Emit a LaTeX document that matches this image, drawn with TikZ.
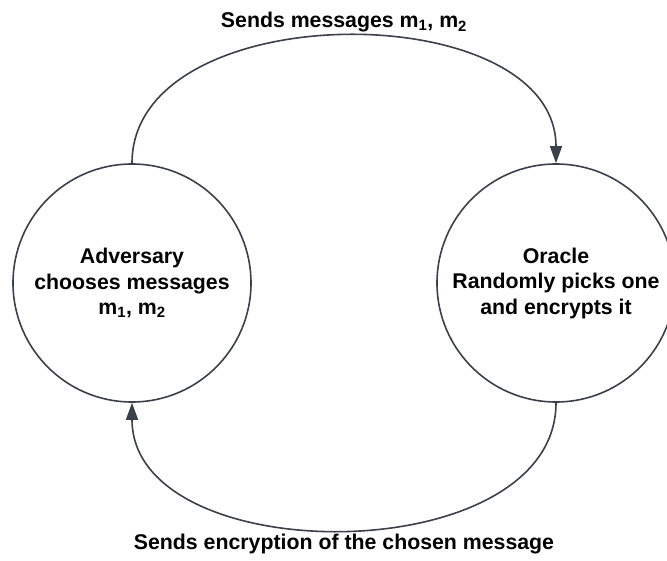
\documentclass[tikz,border=0pt]{standalone}
\usepackage{fontspec}
\setmainfont{Liberation Sans}
\usetikzlibrary{arrows.meta, positioning}
\definecolor{edgegray}{HTML}{3A414A}

\begin{document}
\begin{tikzpicture}[->, x=1pt, y=1pt, line width=1.6pt, node distance=424pt,
    >={Triangle[length=17pt, width=12pt]},
    bigfont/.style={font=\bfseries\fontsize{21.3}{25.5}\selectfont},
    party/.style={circle, draw=edgegray, minimum size=238pt, inner sep=0pt, align=center, bigfont},
    msglabel/.style={bigfont}]
  \useasboundingbox (0,0) rectangle (667,560);
  \node[party] (adv) at (132,277) {Adversary\\chooses messages\\m\textsubscript{1}, m\textsubscript{2}};
  \node[party, right of=adv] (orc) {Oracle\\Randomly picks one\\and encrypts it};
  \draw[edgegray] (adv.north) .. controls +(up:169pt) and +(up:169pt) .. (orc.north)
    node[pos=0.5, above, msglabel, text=black] (sendmsg) {Sends messages m\textsubscript{1}, m\textsubscript{2}};
  \draw[edgegray] (orc.south) .. controls +(down:169pt) and +(down:169pt) .. (adv.south)
    node[pos=0.5, below, msglabel, text=black] (sendenc) {Sends encryption of the chosen message};
\end{tikzpicture}
\end{document}
